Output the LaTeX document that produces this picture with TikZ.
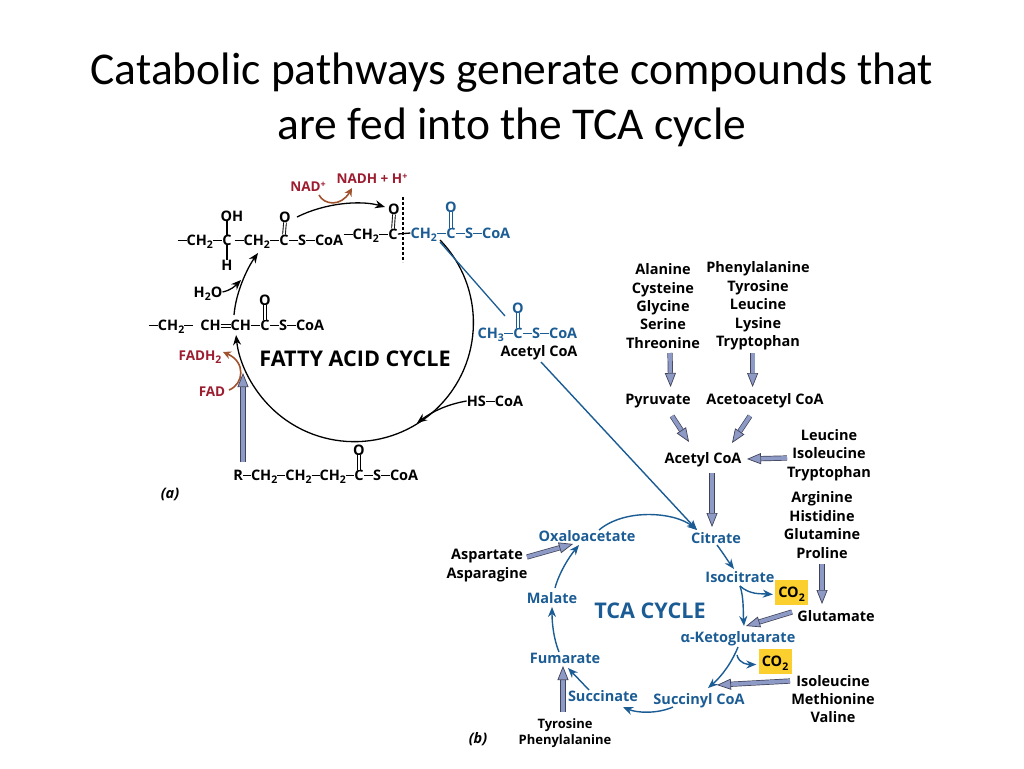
\documentclass[tikz,border=0pt]{standalone}
\usepackage{fontspec}
\setmainfont{Carlito}
\newfontfamily\figfont{Open Sans}
\usetikzlibrary{arrows.meta, positioning, calc}
\definecolor{tcablue}{HTML}{1B5C94}
\definecolor{redoxred}{HTML}{9C1C30}
\definecolor{redoxbrown}{HTML}{A0522D}
\definecolor{blockfill}{HTML}{8E9AC6}
\definecolor{blockline}{HTML}{3F4258}
\definecolor{coyellow}{HTML}{FBCF2E}
\newcommand{\bond}{\rule[4pt]{9pt}{1.3pt}}
\newcommand{\shortbond}{\rule[4pt]{8pt}{1.3pt}}
\newcommand{\subtwo}{\raisebox{-3.5pt}{\fontsize{10.5}{10.5}\selectfont 2}}
\newcommand{\subthree}{\raisebox{-3.5pt}{\fontsize{10.5}{10.5}\selectfont 3}}
\newcommand{\suppl}{\raisebox{4pt}{\fontsize{9}{9}\selectfont +}}
\tikzset{
  chem/.style={
    inner sep=0pt, text height=10.5pt, text depth=0pt,
    font=\figfont\fontsize{14.5}{14.5}\selectfont\bfseries
  },
  label/.style={
    inner sep=0pt, text height=10.5pt, text depth=0pt,
    font=\figfont\fontsize{14.5}{14.5}\selectfont\bfseries
  },
  aminos/.style={
    inner sep=0pt, align=center,
    font=\figfont\fontsize{14.5}{18.4}\selectfont\bfseries
  },
  tcaname/.style={label, text=tcablue},
  redox/.style={
    chem, text=redoxred, font=\figfont\fontsize{13.5}{13.5}\selectfont\bfseries
  },
  cyclename/.style={
    inner sep=0pt, font=\figfont\fontsize{21.6}{22}\selectfont\bfseries
  },
  panel/.style={
    inner sep=0pt, font=\figfont\fontsize{14.5}{14.5}\selectfont\bfseries\itshape
  },
  cobox/.style={
    chem, fill=coyellow, minimum width=33pt, minimum height=25pt
  },
  bondone/.style={line width=1.3pt},
  bondtwo/.style={double, double distance=1.8pt, line width=0.9pt},
  faarrow/.style={
    line width=1.3pt, -{Stealth[length=10pt,width=8pt]}
  },
  tcaarrow/.style={
    line width=1.4pt, color=tcablue, -{Stealth[length=10pt,width=8pt]}
  },
  redoxarrow/.style={
    line width=1.6pt, color=redoxbrown, -{Stealth[length=8pt,width=8pt]}
  },
  blockarrow/.style={
    draw=blockline, line width=0.7pt, double=blockfill, double distance=3.8pt,
    -{Triangle[length=14pt,width=11pt,fill=blockfill]}
  }
}
\begin{document}
\begin{tikzpicture}[x=1pt, y=-1pt, node distance=0pt]
  \useasboundingbox (0,0) rectangle (1024,768);

  % Title
  \node[inner sep=0pt, align=center, font=\fontsize{45.5}{55}\selectfont] (title) at (512,100)
    {Catabolic pathways generate compounds that\\are fed into the TCA cycle};

  % Fatty acid chain, top row
  \node[chem] (cOne) at (227,240) {C};
  \node[chem, left=of cOne] (chainA) {\bond CH\subtwo\bond};
  \node[chem] (cTwo) at (284,240) {C};
  \node[chem, left=of cTwo] (chainB) {\bond CH\subtwo\bond};
  \node[chem, right=of cTwo] (chainC) {\bond S\bond CoA};
  \node[chem] (hydroxyl) at (232,216) {OH};
  \node[chem] (hydrogen) at (227,265) {H};
  \node[chem] (oxyTwo) at (285,217) {O};
  \draw[bondone] (cOne.north) -- (hydroxyl.south -| cOne.north);
  \draw[bondone] (cOne.south) -- (hydrogen.north);
  \draw[bondtwo] (cTwo.north) -- (oxyTwo.south);

  \node[chem] (cThree) at (393,234) {C};
  \node[chem, left=of cThree] (chainD) {\bond CH\subtwo\bond};
  \node[chem] (oxyThree) at (394,209) {O};
  \draw[bondtwo] (cThree.north) -- (oxyThree.south);

  \node[chem, text=tcablue] (cFour) at (451,233) {C};
  \node[chem, text=tcablue, left=of cFour] (chainE) {CH\subtwo\bond};
  \node[chem, text=tcablue, right=of cFour] (chainF) {\bond S\bond CoA};
  \node[chem, text=tcablue] (oxyFour) at (451,207) {O};
  \draw[bondtwo, tcablue] (cFour.north) -- (oxyFour.south);
  \draw[bondone] (cThree.east) -- (chainE.west);
  \coordinate (cutTop) at (403,197);
  \coordinate (cutBottom) at (403,262);
  \draw[line width=1.2pt, dash pattern=on 2.5pt off 2.5pt] (cutTop) -- (cutBottom);

  % Enoyl row
  \node[chem] (cFive) at (265,325) {C};
  \node[chem, left=of cFive] (chainG) {\bond CH\subtwo\bond\hspace{7pt}CH\rule[2.2pt]{10pt}{1.1pt}\hspace{-10pt}\rule[5.6pt]{10pt}{1.1pt}CH\bond};
  \node[chem, right=of cFive] (chainH) {\bond S\bond CoA};
  \node[chem] (oxyFive) at (265,300) {O};
  \draw[bondtwo] (cFive.north) -- (oxyFive.south);

  % Released acetyl CoA
  \node[chem, text=tcablue] (cSix) at (518,333) {C};
  \node[chem, text=tcablue, left=of cSix] (chainI) {CH\subthree\bond};
  \node[chem, text=tcablue, right=of cSix] (chainJ) {\bond S\bond CoA};
  \node[chem, text=tcablue] (oxySix) at (518,308) {O};
  \draw[bondtwo, tcablue] (cSix.north) -- (oxySix.south);
  \node[chem] (acetylA) at (539,351) {Acetyl CoA};

  % Fatty acid entering the cycle
  \node[chem] (cSeven) at (359,475) {C};
  \node[chem, left=of cSeven] (chainK) {R\shortbond CH\subtwo\shortbond CH\subtwo\shortbond CH\subtwo\shortbond};
  \node[chem, right=of cSeven] (chainL) {\bond S\bond CoA};
  \node[chem] (oxySeven) at (359,450) {O};
  \draw[bondtwo] (cSeven.north) -- (oxySeven.south);

  % Labels of the fatty acid cycle
  \node[cyclename] (faCycle) at (355,359) {FATTY ACID CYCLE};
  \node[panel] (panelA) at (170,494) {(a)};
  \node[chem] (water) at (208,292) {H\subtwo O};
  \node[chem] (hsCoa) at (495,401) {HS\bond CoA};
  \node[redox] (nadOx) at (308,186) {NAD\suppl};
  \node[redox] (nadRed) at (372,178) {NADH + H\suppl};
  \node[redox] (fadRed) at (200,355) {FADH\subtwo};
  \node[redox] (fadOx) at (212,391) {FAD};

  % Fatty acid cycle connectors
  \coordinate (faStart) at (440,240);
  \coordinate (waterEnd) at (241,280);
  \coordinate (hsEnd) at (417,423);
  \coordinate (faEntry) at (243,373);
  \draw[faarrow] (faStart) arc[start angle=-44, end angle=174, radius=119];
  \draw[faarrow] ([shift={(12,0)}]oxyTwo.center) .. controls +(28,-14) and +(-25,-7) .. ([shift={(-9,-2)}]oxyThree.center);
  \draw[faarrow] ([shift={(-31,-10)}]cFive.center) .. controls +(2,-24) and +(-10,14) .. ([shift={(31,13)}]cOne.center);
  \draw[faarrow] (water.east) .. controls +(9,-2) and +(-6,6) .. (waterEnd);
  \draw[faarrow] (hsCoa.west) .. controls +(-18,3) and +(16,-12) .. (hsEnd);
  \draw[redoxarrow] ([shift={(11,9)}]nadOx.center) .. controls +(5,10) and +(-11,19) .. ([shift={(-20,10)}]nadRed.center);
  \draw[redoxarrow] ([shift={(17,-1)}]fadOx.center) .. controls +(15,-6) and +(23,10) .. ([shift={(23,-3)}]fadRed.center);
  \draw[blockarrow] ([shift={(-116,-13)}]cSeven.center) -- (faEntry);
  \draw[line width=1.3pt, color=tcablue] ([shift={(-11,9)}]cFour.center) -- ([shift={(-13,-17)}]cSix.center);

  % Amino acids feeding acetyl CoA
  \node[aminos] (glucoList) at (663,306) {Alanine\\Cysteine\\Glycine\\Serine\\Threonine};
  \node[aminos] (ketoList) at (758,306) {Phenylalanine\\Tyrosine\\Leucine\\Lysine\\Tryptophan};
  \node[label] (pyruvate) at (658,399) {Pyruvate};
  \node[label] (acetoacetyl) at (765,399) {Acetoacetyl CoA};
  \node[label] (acetylB) at (703,458) {Acetyl CoA};
  \node[aminos] (leuList) at (829,455) {Leucine\\Isoleucine\\Tryptophan};
  \draw[blockarrow] ([shift={(7,47)}]glucoList.center) -- ([shift={(12.6,-12)}]pyruvate.center);
  \draw[blockarrow] ([shift={(-5.4,47)}]ketoList.center) -- ([shift={(-12.4,-12)}]acetoacetyl.center);
  \draw[blockarrow] ([shift={(14,17)}]pyruvate.center) -- ([shift={(-14,-16)}]acetylB.center);
  \draw[blockarrow] ([shift={(-15,17)}]acetoacetyl.center) -- ([shift={(29,-15)}]acetylB.center);
  \draw[blockarrow] ([shift={(-42,3)}]leuList.center) -- ([shift={(44,1)}]acetylB.center);

  % TCA cycle intermediates
  \node[cyclename, text=tcablue] (tcaCycle) at (650,611) {TCA CYCLE};
  \node[tcaname] (citrate) at (716,538) {Citrate};
  \node[tcaname] (isocitrate) at (740,577) {Isocitrate};
  \node[tcaname] (ketoglut) at (738,637) {α-Ketoglutarate};
  \node[tcaname] (succinyl) at (699,699) {Succinyl CoA};
  \node[tcaname] (succinate) at (603,696) {Succinate};
  \node[tcaname] (fumarate) at (565,658) {Fumarate};
  \node[tcaname] (malate) at (552,598) {Malate};
  \node[tcaname] (oxalo) at (587,536) {Oxaloacetate};
  \node[cobox] (coA) at (791.5,592.5) {CO\subtwo};
  \node[cobox] (coB) at (775,661.5) {CO\subtwo};

  % Amino acids entering the cycle
  \node[aminos] (argList) at (822,525) {Arginine\\Histidine\\Glutamine\\Proline};
  \node[label] (glutamate) at (836,616) {Glutamate};
  \node[aminos] (ileList) at (833,699) {Isoleucine\\Methionine\\Valine};
  \node[aminos, font=\figfont\fontsize{13}{16}\selectfont\bfseries] (tyrList) at (565,733) {Tyrosine\\Phenylalanine};
  \node[aminos, font=\figfont\fontsize{14.5}{19}\selectfont\bfseries] (aspList) at (487,566) {Aspartate\\Asparagine};
  \node[panel] (panelB) at (478,739) {(b)};

  % TCA cycle connectors
  \draw[tcaarrow] ([shift={(2,11)}]acetylA.center) -- ([shift={(-19,-8)}]citrate.center);
  \draw[tcaarrow] ([shift={(12,-6)}]oxalo.center) .. controls +(26,-22) and +(-22,-18) .. ([shift={(-19,-8)}]citrate.center);
  \draw[tcaarrow] ([shift={(1,7)}]citrate.center) .. controls +(6,8) and +(-6,-8) .. ([shift={(-6,-8)}]isocitrate.center);
  \draw[tcaarrow] ([shift={(0,9)}]isocitrate.center) .. controls +(10,9) and +(-12,-1) .. ([shift={(-2,2)}]coA.west);
  \draw[tcaarrow] ([shift={(0,9)}]isocitrate.center) .. controls +(4,12) and +(-1,-14) .. ([shift={(6,-11)}]ketoglut.center);
  \draw[tcaarrow] ([shift={(0,10)}]ketoglut.center) .. controls +(-6,15) and +(14,-12) .. ([shift={(9,-11)}]succinyl.center);
  \draw[tcaarrow] ([shift={(-1,18)}]ketoglut.center) .. controls +(2,9) and +(-8,0) .. ([shift={(-2,3)}]coB.west);
  \draw[tcaarrow] ([shift={(-26,8)}]succinyl.center) .. controls +(-16,7) and +(14,6) .. ([shift={(20,11)}]succinate.center);
  \draw[tcaarrow] ([shift={(-14,-6)}]succinate.center) -- ([shift={(3,10)}]fumarate.center);
  \draw[tcaarrow] ([shift={(-6,-6)}]fumarate.center) .. controls +(-6,-15) and +(0,14) .. ([shift={(0,9)}]malate.center);
  \draw[tcaarrow] ([shift={(3,-10)}]malate.center) .. controls +(4,-15) and +(-10,12) .. ([shift={(-8,9)}]oxalo.center);

  \draw[blockarrow] ([shift={(9,15)}]acetylB.center) -- ([shift={(-4,-11)}]citrate.center);
  \draw[blockarrow] ([shift={(0,39)}]argList.center) -- ([shift={(-14,-12)}]glutamate.center);
  \draw[blockarrow] ([shift={(-44,-4)}]glutamate.center) -- ([shift={(8,-11)}]ketoglut.center);
  \draw[blockarrow] ([shift={(-43,-18)}]ileList.center) -- ([shift={(18,-14)}]succinyl.center);
  \draw[blockarrow] ([shift={(-2,-21)}]tyrList.center) -- ([shift={(-2,8)}]fumarate.center);
  \draw[blockarrow] ([shift={(40,-9)}]aspList.center) -- ([shift={(-14,8)}]oxalo.center);
\end{tikzpicture}
\end{document}
